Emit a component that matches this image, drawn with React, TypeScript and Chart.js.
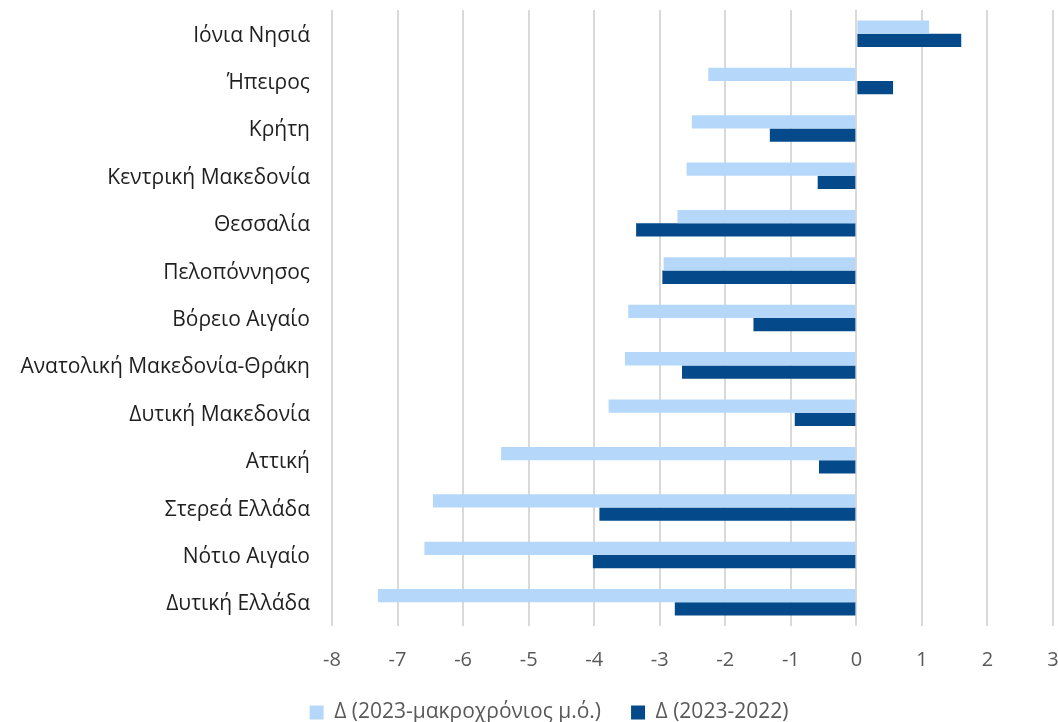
import React, { useEffect, useRef } from "react";
import { Chart, registerables } from "chart.js";

Chart.register(...registerables);

const categories = [
  "Ιόνια Νησιά",
  "Ήπειρος",
  "Κρήτη",
  "Κεντρική Μακεδονία",
  "Θεσσαλία",
  "Πελοπόννησος",
  "Βόρειο Αιγαίο",
  "Ανατολική Μακεδονία-Θράκη",
  "Δυτική Μακεδονία",
  "Αττική",
  "Στερεά Ελλάδα",
  "Νότιο Αιγαίο",
  "Δυτική Ελλάδα",
];

const seriesLongTerm = [1.11, -2.26, -2.51, -2.59, -2.73, -2.94, -3.48, -3.53, -3.78, -5.42, -6.46, -6.59, -7.3];
const seriesYoY = [1.6, 0.56, -1.32, -0.59, -3.36, -2.96, -1.57, -2.66, -0.94, -0.57, -3.92, -4.02, -2.77];

const seriesNames = ["Δ (2023-μακροχρόνιος μ.ό.)", "Δ (2023-2022)"];
const xMin = -8;
const xMax = 3;

const FONT = "'Open Sans', 'Noto Sans', sans-serif";

const legendShift = {
  id: "legendShift",
  afterLayout(chart: any) {
    const lg = chart.legend;
    if (lg) {
      lg.left = 45;
      const h = lg.height;
      lg.top = 672;
      lg.bottom = lg.top + h;
    }
  },
};

export default function App() {
  const ref = useRef<HTMLCanvasElement | null>(null);

  useEffect(() => {
    if (!ref.current) return;
    const chart = new Chart(ref.current, {
      type: "bar",
      data: {
        labels: categories,
        datasets: [
          {
            label: seriesNames[0],
            data: seriesLongTerm,
            backgroundColor: "#B5D8FA",
            borderWidth: 0,
            barPercentage: 1,
            categoryPercentage: 0.56,
          },
          {
            label: seriesNames[1],
            data: seriesYoY,
            backgroundColor: "#044A8A",
            borderWidth: 0,
            barPercentage: 1,
            categoryPercentage: 0.56,
          },
        ],
      },
      options: {
        indexAxis: "y",
        animation: false,
        responsive: false,
        maintainAspectRatio: false,
        layout: { padding: { top: 10, left: 0, right: 5, bottom: 0 } },
        scales: {
          x: {
            min: xMin,
            max: xMax,
            ticks: {
              stepSize: 1,
              color: "#595959",
              font: { family: FONT, size: 20 },
              padding: 22,
            },
            grid: {
              color: "#D9D9D9",
              lineWidth: 2,
              drawTicks: false,
            },
            border: { display: false },
            afterFit: (scale: any) => {
              scale.height = 63;
              scale.paddingLeft = 0;
              scale.paddingRight = 0;
            },
          },
          y: {
            ticks: {
              color: "#1F1F1F",
              font: { family: FONT, size: 21 },
              padding: 22,
              labelOffset: 2,
            },
            grid: { display: false, drawTicks: false },
            border: { display: false },
            afterFit: (scale: any) => {
              scale.width = 332;
              scale.paddingTop = 0;
              scale.paddingBottom = 0;
            },
          },
        },
        plugins: {
          legend: {
            position: "bottom",
            labels: {
              boxWidth: 14,
              boxHeight: 14,
              padding: 30,
              color: "#595959",
              font: { family: FONT, size: 21 },
            },
          },
          tooltip: { enabled: false },
        },
      },
      plugins: [legendShift],
    });
    return () => chart.destroy();
  }, []);

  return (
    <div style={{ position: "fixed", left: 0, top: 0, width: 1058, height: 750, overflow: "hidden", background: "#fff" }}>
      <canvas ref={ref} width={1058} height={750} style={{ width: 1058, height: 750 }} />
    </div>
  );
}
